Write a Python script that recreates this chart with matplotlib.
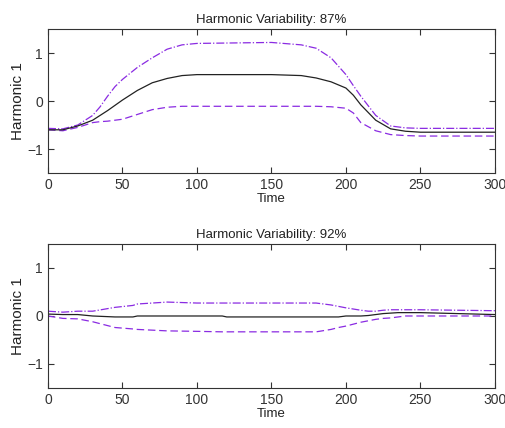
import numpy as np
import matplotlib
matplotlib.use("Agg")
import matplotlib.pyplot as plt

plt.rcParams['font.family'] = ['Liberation Sans', 'DejaVu Sans']

# top panel (87%)
t1 = [0, 10, 20, 30, 35, 40, 45, 50, 60, 70, 80, 90, 100, 150, 170, 180, 190, 200, 205, 210, 220, 230, 240, 250, 300]
mean1 = [-0.6, -0.6, -0.52, -0.4, -0.3, -0.2, -0.09, 0.02, 0.22, 0.38, 0.47, 0.53, 0.55, 0.55, 0.53, 0.48, 0.4, 0.27, 0.12, -0.08, -0.4, -0.58, -0.63, -0.65, -0.65]
upper1 = [-0.57, -0.58, -0.5, -0.3, -0.12, 0.1, 0.3, 0.45, 0.7, 0.9, 1.08, 1.17, 1.2, 1.22, 1.17, 1.1, 0.9, 0.55, 0.32, 0.1, -0.3, -0.52, -0.56, -0.57, -0.57]
lower1 = [-0.6, -0.62, -0.55, -0.45, -0.43, -0.42, -0.4, -0.38, -0.28, -0.18, -0.13, -0.11, -0.11, -0.11, -0.11, -0.11, -0.12, -0.15, -0.25, -0.45, -0.62, -0.7, -0.72, -0.73, -0.73]

# bottom panel (92%)
t2 = [0, 10, 20, 30, 45, 57, 60, 80, 100, 117, 120, 150, 180, 190, 195, 200, 210, 215, 220, 225, 230, 235, 240, 250, 300]
mean2 = [0.04, 0.03, 0.03, 0.0, -0.02, -0.02, 0.0, 0.0, 0.0, 0.0, -0.02, -0.02, -0.02, -0.02, -0.02, 0.0, 0.0, 0.01, 0.03, 0.05, 0.06, 0.07, 0.07, 0.07, 0.03]
upper2 = [0.1, 0.08, 0.1, 0.1, 0.18, 0.22, 0.25, 0.29, 0.27, 0.27, 0.27, 0.27, 0.27, 0.23, 0.2, 0.17, 0.12, 0.1, 0.1, 0.12, 0.13, 0.13, 0.13, 0.13, 0.11]
lower2 = [0.0, -0.05, -0.06, -0.12, -0.24, -0.27, -0.28, -0.31, -0.32, -0.33, -0.33, -0.33, -0.33, -0.28, -0.24, -0.21, -0.13, -0.1, -0.07, -0.05, -0.04, -0.02, 0.0, 0.0, 0.0]

titles = ["Harmonic Variability: 87%", "Harmonic Variability: 92%"]
purple = "#8a2be2"

fig = plt.figure(figsize=(5.05, 4.28), dpi=100)
ax1 = fig.add_axes([0.095, 0.5958, 0.885, 0.3364])
ax2 = fig.add_axes([0.095, 0.0935, 0.885, 0.3364])

for ax, t, m, u, l, title in [(ax1, t1, mean1, upper1, lower1, titles[0]),
                              (ax2, t2, mean2, upper2, lower2, titles[1])]:
    ax.plot(t, u, color=purple, linestyle="-.", linewidth=0.9)
    ax.plot(t, l, color=purple, linestyle=(0, (6, 3)), linewidth=0.9)
    ax.plot(t, m, color="#222222", linewidth=0.9)
    ax.set_xlim(0, 300)
    ax.set_ylim(-1.5, 1.5)
    ax.set_xticks([0, 50, 100, 150, 200, 250, 300])
    ax.set_yticks([-1, 0, 1])
    ax.tick_params(direction="in", top=True, right=True, labelsize=10, colors="#333333", length=4)
    for s in ax.spines.values():
        s.set_color("#333333")
    ax.set_title(title, fontsize=9.5, color="#222222", pad=4)
    ax.set_xlabel("Time", fontsize=9.5, color="#222222", labelpad=1)
    ax.set_ylabel("Harmonic 1", fontsize=11, color="#222222", labelpad=2)

plt.savefig("out.png", dpi=100)
